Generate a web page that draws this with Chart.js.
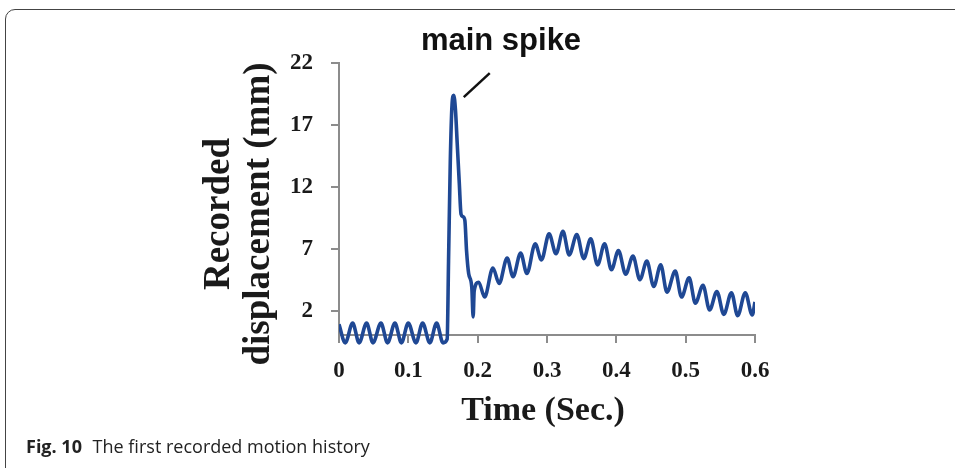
<!DOCTYPE html>
<html>
<head>
<meta charset="utf-8">
<script src="https://cdn.jsdelivr.net/npm/chart.js@4/dist/chart.umd.min.js"></script>
<style>
  html, body { margin: 0; padding: 0; background: #fff; overflow: hidden; }
  #wrap { position: relative; width: 955px; height: 468px; }
  #box { position: absolute; left: 5px; top: 9px; width: 1000px; height: 470px;
         border: 1.5px solid #444; border-radius: 10px; }
  canvas { position: absolute; left: 0; top: 0; }
  .txt { position: absolute; white-space: nowrap; color: #111; }
  #spike { font: bold 31px "Liberation Sans", Arial, sans-serif; line-height: 31px;
           top: 24px; left: 401px; width: 200px; text-align: center; }
  #ytitle { font: bold 37px "Liberation Serif", "Times New Roman", serif; line-height: 40px;
            left: 67px; top: 174px; width: 340px; height: 80px; text-align: center;
            transform: rotate(-90deg); color: #1a1a1a; }
  #xtitle { font: bold 34px "Liberation Serif", "Times New Roman", serif; line-height: 34px;
            top: 392px; left: 443px; width: 200px; text-align: center; color: #1a1a1a; }
  #caption { font: 18px "Open Sans", sans-serif; line-height: 18px; top: 437px; left: 26px; color: #222; }
  #caption b { font-weight: bold; margin-right: 6px; }
</style>
</head>
<body>
<div id="wrap">
  <div id="box"></div>
  <canvas id="grafico" width="955" height="468"></canvas>
  <div class="txt" id="spike">main spike</div>
  <div class="txt" id="ytitle">Recorded<br>displacement (mm)</div>
  <div class="txt" id="xtitle">Time (Sec.)</div>
  <div class="txt" id="caption"><b>Fig. 10</b> The first recorded motion history</div>
</div>
<script>
//------ datos ------//
let tiempo = [
  0, 0.009, 0.0197, 0.029, 0.0398, 0.049, 0.0605, 0.070, 0.0807, 0.090, 0.0999, 0.111, 0.1206, 0.131, 0.1408, 0.150,
  0.156, 0.158, 0.1605, 0.163, 0.1655, 0.168, 0.1705, 0.1735, 0.176, 0.1785, 0.1815, 0.184, 0.187, 0.1915, 0.1935, 0.195,
  0.2015, 0.210, 0.222, 0.231, 0.2425, 0.251, 0.262, 0.271, 0.283, 0.292, 0.303, 0.313, 0.323, 0.332, 0.343, 0.353,
  0.363, 0.373, 0.383, 0.393, 0.403, 0.4135, 0.424, 0.434, 0.444, 0.454, 0.464, 0.473, 0.485, 0.494, 0.505, 0.514,
  0.525, 0.5345, 0.545, 0.555, 0.566, 0.575, 0.586, 0.596, 0.6
];
let desplazamiento = [
  0.9, -0.6, 1.0, -0.6, 1.0, -0.6, 1.0, -0.6, 1.0, -0.6, 1.0, -0.6, 1.0, -0.6, 1.0, -0.6,
  -0.3, 6, 14, 18.6, 19.4, 18.2, 15.5, 12.3, 9.8, 9.6, 9.3, 6.8, 5.0, 3.9, 1.5, 3.6,
  4.3, 3.1, 5.45, 4.2, 6.25, 4.75, 6.65, 5.0, 7.4, 6.1, 8.2, 6.6, 8.4, 6.5, 8.15, 6.2,
  7.8, 5.7, 7.4, 5.3, 6.85, 4.95, 6.4, 4.5, 6.0, 3.95, 5.7, 3.5, 5.2, 3.1, 4.65, 2.6,
  4.05, 2.05, 3.55, 1.7, 3.45, 1.6, 3.45, 1.65, 2.7
];
let xTicks = [0, 0.1, 0.2, 0.3, 0.4, 0.5, 0.6];
let xTickLabels = ['0', '0.1', '0.2', '0.3', '0.4', '0.5', '0.6'];
let yTicks = [2, 7, 12, 17, 22];

let puntos = tiempo.map((t, i) => ({ x: t, y: desplazamiento[i] }));
let colorEje = '#8c8c8c';
let fuenteTick = { family: 'Liberation Serif', size: 23, weight: 'bold' };

//------ eje vertical (de 0 hacia arriba) y linea de "main spike" ------//
const extras = {
  id: 'extras',
  beforeDatasetsDraw(chart) {
    let sx = chart.scales.x, sy = chart.scales.y;
    let c = chart.ctx;
    c.save();
    c.strokeStyle = colorEje;
    c.lineWidth = 2;
    c.beginPath();
    c.moveTo(sx.getPixelForValue(0), sy.getPixelForValue(0));
    c.lineTo(sx.getPixelForValue(0), sy.getPixelForValue(22) - 1);
    c.stroke();
    c.restore();
  },
  afterDraw(chart) {
    let i = desplazamiento.indexOf(Math.max(...desplazamiento));
    let px = chart.scales.x.getPixelForValue(tiempo[i]);
    let py = chart.scales.y.getPixelForValue(desplazamiento[i]);
    let c = chart.ctx;
    c.save();
    c.strokeStyle = '#111';
    c.lineWidth = 2.5;
    c.beginPath();
    c.moveTo(px + 10, py + 2);
    c.lineTo(px + 36, py - 22);
    c.stroke();
    c.restore();
  }
};

let ctx = document.querySelector('#grafico');
let grafico = new Chart(ctx, {
  type: 'line',
  data: {
    datasets: [{
      data: puntos,
      borderColor: '#1f4894',
      borderWidth: 3.6,
      pointRadius: 0,
      cubicInterpolationMode: 'monotone'
    }, {
      data: puntos,
      borderColor: '#7198d0',
      borderWidth: 1.1,
      pointRadius: 0,
      cubicInterpolationMode: 'monotone'
    }]
  },
  options: {
    responsive: false,
    animation: false,
    layout: { padding: { left: 0, top: 63, right: 200, bottom: 114 } },
    plugins: { legend: { display: false }, tooltip: { enabled: false } },
    scales: {
      x: {
        type: 'linear',
        position: { y: 0 },
        min: 0,
        max: 0.6,
        afterBuildTicks: s => { s.ticks = xTicks.map(v => ({ value: v })); },
        ticks: {
          font: fuenteTick,
          color: '#1a1a1a',
          padding: 15,
          maxRotation: 0,
          callback: (v, i) => xTickLabels[i]
        },
        grid: { drawOnChartArea: false, drawTicks: true, tickLength: 7, color: colorEje, lineWidth: 2 },
        border: { display: true, color: colorEje, width: 2 }
      },
      y: {
        min: -1.5,
        max: 22,
        afterFit: s => { s.width = 339; },
        afterBuildTicks: s => { s.ticks = yTicks.map(v => ({ value: v })); },
        ticks: { font: fuenteTick, color: '#1a1a1a', padding: 18 },
        grid: { drawOnChartArea: false, drawTicks: true, tickLength: 8, color: colorEje, lineWidth: 2 },
        border: { display: false }
      }
    }
  },
  plugins: [extras]
});
</script>
</body>
</html>
